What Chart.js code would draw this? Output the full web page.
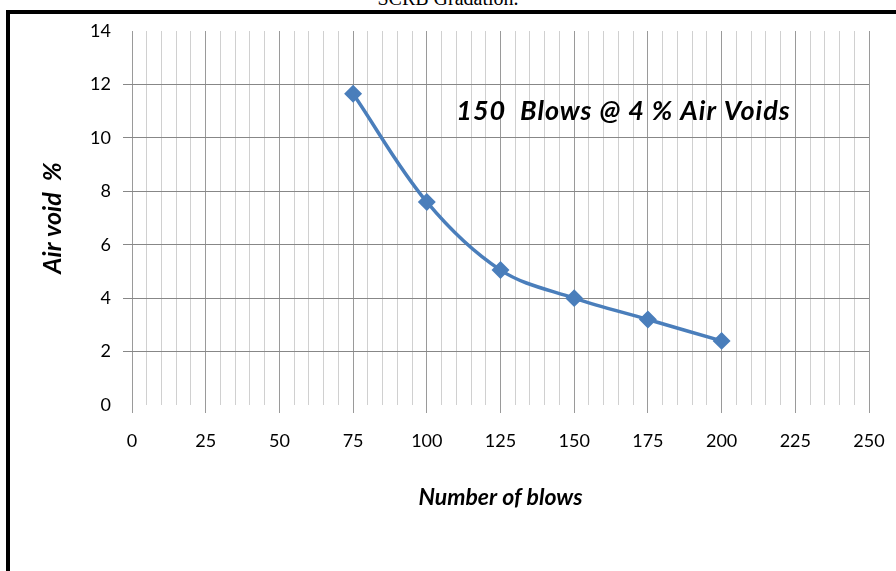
<!DOCTYPE html>
<html>
<head>
<meta charset="utf-8">
<script src="https://cdn.jsdelivr.net/npm/chart.js@4"></script>
<style>
  html, body { margin: 0; padding: 0; background: #fff; }
  #wrap { position: relative; width: 896px; height: 571px; overflow: hidden; }
  #myChart { position: absolute; left: 0; top: 0; }
  #frame {
    position: absolute; left: 6px; top: 10px; width: 900px; height: 600px;
    border-left: 4px solid #000; border-top: 4px solid #000; pointer-events: none;
  }
  #caption {
    position: absolute; left: 0; width: 896px; top: -13px; text-align: center;
    font: 20px "Liberation Serif", "Times New Roman", serif; color: #000;
  }
</style>
</head>
<body>
<div id="wrap">
  <div id="caption">SCRB Gradation.</div>
  <canvas id="myChart" width="896" height="571"></canvas>
  <div id="frame"></div>
</div>
<script>
const blows = [75, 100, 125, 150, 175, 200];
const airVoids = [11.65, 7.6, 5.05, 4.0, 3.2, 2.4];
const xTitle = "Number of blows";
const yTitle = "Air void  %";
const note = "150  Blows @ 4 % Air Voids";
const noteAt = { x: 110, y: 11 };

const blue = "#4a7ebb";
const font = "Lato, 'Open Sans', sans-serif";

const notePlugin = {
  id: "note",
  afterDatasetsDraw(chart) {
    const { ctx, scales } = chart;
    ctx.save();
    ctx.font = "italic bold 27px " + font;
    ctx.letterSpacing = "1px";
    ctx.fillStyle = "#000";
    ctx.textAlign = "left";
    ctx.textBaseline = "middle";
    ctx.fillText(note, scales.x.getPixelForValue(noteAt.x), scales.y.getPixelForValue(noteAt.y));
    ctx.restore();
  },
};

const chartDOM = document.getElementById("myChart");
const myChart = new Chart(chartDOM, {
  type: "line",
  data: {
    datasets: [
      {
        data: blows.map((b, i) => ({ x: b, y: airVoids[i] })),
        borderColor: blue,
        backgroundColor: blue,
        borderWidth: 3.5,
        tension: 0.35,
        pointStyle: "rectRot",
        pointRadius: 6.5,
        pointHoverRadius: 6.5,
      },
    ],
  },
  options: {
    responsive: false,
    animation: false,
    devicePixelRatio: 1,
    layout: { padding: { left: 0, right: 27, top: 31, bottom: 0 } },
    plugins: { legend: { display: false }, tooltip: { enabled: false } },
    scales: {
      x: {
        type: "linear",
        min: 0,
        max: 250,
        afterFit(scale) {
          scale.height = 166;
          scale.paddingLeft = 0;
          scale.paddingRight = 0;
        },
        border: { display: false },
        grid: {
          color: (c) => (c.tick.value % 25 === 0 ? "#9a9a9a" : "#d0d0d0"),
          tickColor: (c) => (c.tick.value % 25 === 0 ? "#9a9a9a" : "rgba(0,0,0,0)"),
          tickLength: 8,
        },
        ticks: {
          stepSize: 5,
          autoSkip: false,
          maxRotation: 0,
          padding: 17,
          color: "#000",
          font: { family: font, size: 18 },
          callback: (v) => (v % 25 === 0 ? v : ""),
        },
        title: {
          display: true,
          text: xTitle,
          color: "#000",
          font: { family: font, size: 23, style: "italic", weight: "bold" },
          padding: { bottom: 60 },
        },
      },
      y: {
        min: 0,
        max: 14,
        afterFit(scale) {
          scale.width = 132;
          scale.paddingTop = 0;
          scale.paddingBottom = 0;
        },
        border: { display: false },
        grid: {
          color: (c) => (c.tick.value > 0 && c.tick.value < 14 ? "#878787" : "rgba(0,0,0,0)"),
          tickLength: 9,
        },
        ticks: {
          stepSize: 2,
          padding: 12,
          color: "#000",
          font: { family: font, size: 18 },
        },
        title: {
          display: true,
          text: yTitle,
          color: "#000",
          font: { family: font, size: 25, style: "italic", weight: "bold" },
          padding: { top: 38 },
        },
      },
    },
  },
  plugins: [notePlugin],
});
</script>
</body>
</html>
